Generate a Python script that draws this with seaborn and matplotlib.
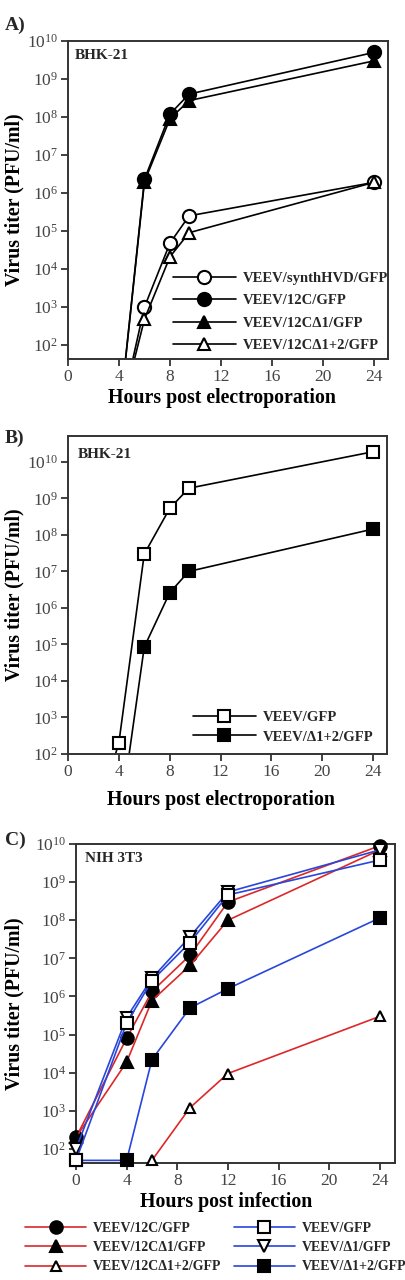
import numpy as np
import pandas as pd
import matplotlib
matplotlib.use("Agg")
import matplotlib.pyplot as plt
import seaborn as sns
from matplotlib.ticker import LogFormatterMathtext, FixedLocator

# ---------------- data ----------------
# Panel A (BHK-21, hours post electroporation)
a_hours = [4, 6, 8, 9.5, 24]
a_synth = [1, 1.0e3, 4.8e4, 2.5e5, 1.9e6]
a_12c = [1, 2.3e6, 1.2e8, 4.0e8, 5.0e9]
a_12cd1 = [1, 2.0e6, 9.0e7, 2.7e8, 3.0e9]
a_12cd12 = [1, 4.8e2, 2.1e4, 9.0e4, 1.9e6]

# Panel B (BHK-21)
b_gfp_hours = [2, 4, 6, 8, 9.5, 24]
b_gfp = [1, 2.0e2, 3.0e7, 5.3e8, 1.9e9, 1.9e10]
b_d12_hours = [4, 6, 8, 9.5, 24]
b_d12 = [1, 8.5e4, 2.6e6, 1.0e7, 1.45e8]

# Panel C (NIH 3T3, hours post infection)
c_hours = [0, 4, 6, 9, 12, 24]
c_12c = [2.0e2, 8.0e4, 1.35e6, 1.2e7, 3.0e8, 9.0e9]
c_12cd1 = [2.0e2, 1.9e4, 7.8e5, 6.5e6, 1.0e8, 7.0e9]
c_12cd12_hours = [6, 9, 12, 24]
c_12cd12 = [50, 1.2e3, 9.5e3, 3.0e5]
c_gfp = [50, 2.0e5, 2.6e6, 2.6e7, 4.6e8, 3.8e9]
c_d1 = [1.0e2, 2.8e5, 3.0e6, 3.7e7, 5.5e8, 7.0e9]
c_d12 = [50, 50, 2.2e4, 5.0e5, 1.6e6, 1.15e8]

labels_a = ["VEEV/synthHVD/GFP", "VEEV/12C/GFP", "VEEV/12C\u03941/GFP", "VEEV/12C\u03941+2/GFP"]
labels_b = ["VEEV/GFP", "VEEV/\u03941+2/GFP"]
labels_c = ["VEEV/12C/GFP", "VEEV/12C\u03941/GFP", "VEEV/12C\u03941+2/GFP",
            "VEEV/GFP", "VEEV/\u03941/GFP", "VEEV/\u03941+2/GFP"]
x_ticks = [0, 4, 8, 12, 16, 20, 24]

# ---------------- style ----------------
sns.set_theme(style="ticks")
plt.rcParams["font.family"] = ["Liberation Serif", "DejaVu Serif"]
plt.rcParams["mathtext.fontset"] = "stix"
plt.rcParams["axes.edgecolor"] = "#333333"
plt.rcParams["axes.linewidth"] = 1.4

RED = "#dc2828"
BLUE = "#2846dc"
W = 406.0
H = 1280.0

fig = plt.figure(figsize=(W / 100, H / 100), dpi=100)


def px_axes(left, right, top, bottom):
    return fig.add_axes([left / W, 1 - bottom / H, (right - left) / W, (bottom - top) / H])


def series(ax, x, y, label, marker, mfc, color, ms, clip=True, z=2):
    df = pd.DataFrame({"x": x, "y": y})
    sns.lineplot(data=df, x="x", y="y", ax=ax, label=label, color=color,
                 marker=marker, markerfacecolor=mfc, markeredgecolor="black",
                 markeredgewidth=1.5, markersize=ms, linewidth=1.2,
                 clip_on=clip, zorder=z, sort=False)


def style_axes(ax, xlim, ylim, xlabel, xl_coords, yl_x):
    ax.set_yscale("log")
    ax.set_xlim(*xlim)
    ax.set_ylim(*ylim)
    ax.xaxis.set_major_locator(FixedLocator(x_ticks))
    ax.set_xticklabels([str(t) for t in x_ticks])
    ax.yaxis.set_major_locator(FixedLocator([10.0 ** k for k in range(2, 11)]))
    ax.yaxis.set_major_formatter(LogFormatterMathtext())
    ax.yaxis.set_minor_locator(FixedLocator([]))
    ax.tick_params(axis="both", direction="out", length=5, width=1.3,
                   colors="#333333", labelsize=12.5, labelcolor="#444444", pad=2)
    ax.set_xlabel(xlabel, fontsize=14.3, fontweight="bold", color="black")
    ax.set_ylabel("Virus titer (PFU/ml)", fontsize=14.3, fontweight="bold", color="black")
    ax.xaxis.set_label_coords(*xl_coords)
    ax.yaxis.set_label_coords(yl_x, 0.5)
    for s in ax.spines.values():
        s.set_visible(True)
        s.set_color("#333333")
        s.set_linewidth(1.4)
    ax.grid(False)


# ---------------- Panel A ----------------
axA = px_axes(68, 388, 41, 359)
series(axA, a_hours, a_synth, labels_a[0], "o", "white", "black", 9.5)
series(axA, a_hours, a_12c, labels_a[1], "o", "black", "black", 9.5)
series(axA, a_hours, a_12cd1, labels_a[2], "^", "black", "black", 8.5)
series(axA, a_hours, a_12cd12, labels_a[3], "^", "white", "black", 8.5)
style_axes(axA, (0, 25.1), (10 ** 1.63, 1e10), "Hours post electroporation", (0.48, -0.09), -0.135)
axA.text(0.022, 0.953, "BHK-21", transform=axA.transAxes, fontsize=11, fontweight="bold",
         va="center", ha="left")
axA.legend(loc="upper left", bbox_to_anchor=((173 - 68) / 320, 1 - (272 - 41) / 318),
           frameon=False, handlelength=4.3, handletextpad=0.5, labelspacing=0.62,
           borderpad=0, borderaxespad=0, prop={"weight": "bold", "size": 10.5})

# ---------------- Panel B ----------------
axB = px_axes(68, 387, 436, 754)
series(axB, b_gfp_hours, b_gfp, labels_b[0], "s", "white", "black", 9)
series(axB, b_d12_hours, b_d12, labels_b[1], "s", "black", "black", 9)
style_axes(axB, (0, 25.1), (1e2, 10 ** 10.71), "Hours post electroporation", (0.48, -0.112), -0.135)
axB.text(0.03, 0.943, "BHK-21", transform=axB.transAxes, fontsize=11, fontweight="bold",
         va="center", ha="left")
axB.legend(loc="upper left", bbox_to_anchor=((193 - 68) / 319, 1 - (711 - 436) / 318),
           frameon=False, handlelength=4.3, handletextpad=0.5, labelspacing=0.42,
           borderpad=0, borderaxespad=0, prop={"weight": "bold", "size": 10.5})

# ---------------- Panel C ----------------
axC = px_axes(76, 395, 844, 1163)
series(axC, c_hours, c_12c, labels_c[0], "o", "black", RED, 9, clip=False, z=3)
series(axC, c_hours, c_12cd1, labels_c[1], "^", "black", RED, 8, clip=False, z=3)
series(axC, c_12cd12_hours, c_12cd12, labels_c[2], "^", "white", RED, 7.5, clip=False, z=3)
series(axC, c_hours, c_gfp, labels_c[3], "s", "white", BLUE, 9, clip=False, z=4.5)
series(axC, c_hours, c_d1, labels_c[4], "v", "white", BLUE, 8, clip=False, z=3.5)
series(axC, c_hours, c_d12, labels_c[5], "s", "black", BLUE, 9, clip=False, z=4)
if axC.get_legend():
    axC.get_legend().remove()
style_axes(axC, (0, 25.2), (10 ** 1.63, 1e10), "Hours post infection", (0.47, -0.09), -0.163)
axC.text(0.028, 0.953, "NIH 3T3", transform=axC.transAxes, fontsize=11, fontweight="bold",
         va="center", ha="left")
handles, labs = axC.get_legend_handles_labels()
fig.legend(handles, labs, loc="upper left", bbox_to_anchor=(25 / W, 1 - 1222 / H),
           ncol=2, frameon=False, handlelength=4.4, handletextpad=0.5, labelspacing=0.45,
           columnspacing=0.9, borderpad=0, borderaxespad=0,
           prop={"weight": "bold", "size": 10})

# panel letters
for lab, y in [("A)", 25), ("B)", 438), ("C)", 840)]:
    fig.text(5 / W, 1 - y / H, lab, fontsize=14, fontweight="bold", va="center", ha="left")

fig.savefig("out.png", dpi=100)
